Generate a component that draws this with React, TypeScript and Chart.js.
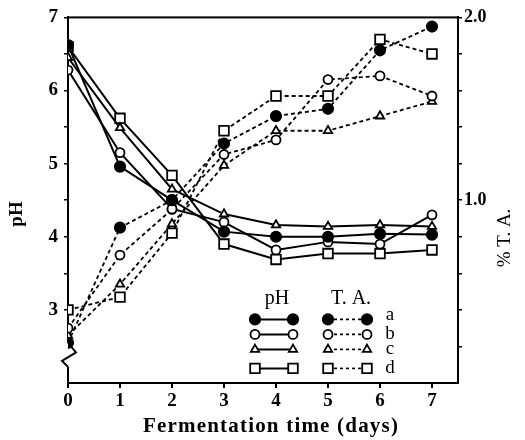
import React, { useEffect, useRef } from "react";
import { Chart, registerables } from "chart.js";

Chart.register(...registerables);

// ---- data ----
const days = [0, 1, 2, 3, 4, 5, 6, 7];
const pH_a = [6.62, 4.96, 4.5, 4.07, 4.0, 4.0, 4.04, 4.03];
const pH_b = [6.28, 5.15, 4.38, 4.2, 3.82, 3.93, 3.9, 4.3];
const pH_c = [6.45, 5.49, 4.65, 4.31, 4.16, 4.14, 4.16, 4.14];
const pH_d = [6.6, 5.62, 4.84, 3.9, 3.69, 3.77, 3.77, 3.82];
const TA_a = [0.22, 0.85, 1.0, 1.31, 1.46, 1.5, 1.82, 1.95];
const TA_b = [0.3, 0.7, 0.95, 1.25, 1.33, 1.66, 1.68, 1.57];
const TA_c = [0.26, 0.54, 0.87, 1.19, 1.38, 1.38, 1.46, 1.54];
const TA_d = [0.4, 0.47, 0.82, 1.38, 1.57, 1.57, 1.88, 1.8];
const xTicks = [0, 1, 2, 3, 4, 5, 6, 7];
const pHTicks = [3, 3.5, 4, 4.5, 5, 5.5, 6, 6.5, 7];
const pHLabels = [3, 4, 5, 6, 7];
const TATicks = [0.2, 0.4, 0.6, 0.8, 1.0, 1.2, 1.4, 1.6, 1.8, 2.0];
const TALabels = [1.0, 2.0];
const seriesLetters = ["a", "b", "c", "d"];

const SERIF = "'Liberation Serif', 'DejaVu Serif', serif";

type Marker = { style: "circle" | "rect" | "triangle"; filled: boolean; r: number };
const markers: Marker[] = [
  { style: "circle", filled: true, r: 5.2 },
  { style: "circle", filled: false, r: 4.5 },
  { style: "triangle", filled: false, r: 4.8 },
  { style: "rect", filled: false, r: 6.8 },
];

function drawMarker(ctx: CanvasRenderingContext2D, m: Marker, x: number, y: number) {
  ctx.save();
  ctx.beginPath();
  if (m.style === "circle") {
    ctx.arc(x, y, m.r, 0, Math.PI * 2);
  } else if (m.style === "rect") {
    const s = Math.SQRT1_2 * m.r;
    ctx.rect(x - s, y - s, 2 * s, 2 * s);
  } else {
    const r = m.r;
    ctx.moveTo(x, y - r);
    ctx.lineTo(x + r * Math.sin(Math.PI * 2 / 3), y - r * Math.cos(Math.PI * 2 / 3));
    ctx.lineTo(x - r * Math.sin(Math.PI * 2 / 3), y - r * Math.cos(Math.PI * 2 / 3));
    ctx.closePath();
  }
  ctx.fillStyle = m.filled ? "#000" : "#fff";
  ctx.fill();
  ctx.lineWidth = 1.8;
  ctx.strokeStyle = "#000";
  ctx.setLineDash([]);
  ctx.stroke();
  ctx.restore();
}

const framePlugin = {
  id: "frame",
  beforeDatasetsDraw(chart: any) {
    const { ctx, chartArea } = chart;
    const ys = chart.scales.y;
    ctx.save();
    ctx.strokeStyle = "#000";
    ctx.lineWidth = 2;
    ctx.setLineDash([]);
    ctx.strokeRect(chartArea.left, chartArea.top, chartArea.right - chartArea.left, chartArea.bottom - chartArea.top);
    // axis break on the left axis
    const y1 = ys.getPixelForValue(2.55);
    const y2 = ys.getPixelForValue(2.22);
    const x = chartArea.left;
    ctx.fillStyle = "#fff";
    ctx.fillRect(x - 4, y1, 8, y2 - y1);
    ctx.beginPath();
    ctx.moveTo(x, y1);
    ctx.lineTo(x + 8, y1 + (y2 - y1) * 0.4);
    ctx.lineTo(x - 6, y1 + (y2 - y1) * 0.75);
    ctx.lineTo(x, y2);
    ctx.stroke();
    ctx.restore();
  },
  afterDraw(chart: any) {
    const { ctx, chartArea } = chart;
    ctx.save();
    ctx.fillStyle = "#000";
    ctx.textAlign = "center";
    ctx.textBaseline = "middle";
    // x title
    ctx.font = `bold 21px ${SERIF}`;
    try { (ctx as any).letterSpacing = "1.2px"; } catch (e) {}
    const cx = (chartArea.left + chartArea.right) / 2;
    ctx.fillText("Fermentation time (days)", cx + 8, 427);
    try { (ctx as any).letterSpacing = "0px"; } catch (e) {}
    // left title
    ctx.save();
    ctx.translate(17, 214);
    ctx.rotate(-Math.PI / 2);
    ctx.font = `bold 19px ${SERIF}`;
    ctx.fillText("pH", 0, 0);
    ctx.restore();
    // right title
    ctx.save();
    ctx.translate(505, 238);
    ctx.rotate(-Math.PI / 2);
    ctx.font = `19px ${SERIF}`;
    ctx.fillText("% T. A.", 0, 0);
    ctx.restore();

    // legend
    const L = chartArea.left;
    const T = chartArea.top;
    ctx.font = `20px ${SERIF}`;
    ctx.fillText("pH", L + 209, T + 281);
    ctx.fillText("T. A.", L + 283, T + 281);
    const rowY = [302, 317, 332, 351];
    const pHx0 = L + 187, pHx1 = L + 225;
    const tax0 = L + 260, tax1 = L + 299;
    ctx.font = `19px ${SERIF}`;
    for (let i = 0; i < 4; i++) {
      const y = T + rowY[i];
      ctx.strokeStyle = "#000";
      ctx.lineWidth = 2;
      ctx.setLineDash([]);
      ctx.beginPath();
      ctx.moveTo(pHx0, y);
      ctx.lineTo(pHx1, y);
      ctx.stroke();
      drawMarker(ctx, markers[i], pHx0, y);
      drawMarker(ctx, markers[i], pHx1, y);
      ctx.lineWidth = 1.6;
      ctx.setLineDash([3, 3]);
      ctx.beginPath();
      ctx.moveTo(tax0, y);
      ctx.lineTo(tax1, y);
      ctx.stroke();
      ctx.setLineDash([]);
      drawMarker(ctx, markers[i], tax0, y);
      drawMarker(ctx, markers[i], tax1, y);
      ctx.fillStyle = "#000";
      ctx.fillText(seriesLetters[i], L + 322, y - (i === 0 ? 4 : 0));
    }
    ctx.restore();
  },
};

function mk(label: string, vals: number[], idx: number, axis: string, dashed: boolean) {
  const m = markers[idx];
  return {
    label,
    data: days.map((d, i) => ({ x: d, y: vals[i] })),
    yAxisID: axis,
    borderColor: "#000",
    borderWidth: dashed ? 1.8 : 2,
    borderDash: dashed ? [4, 3] : [],
    pointStyle: m.style,
    pointRadius: m.r,
    pointBorderWidth: 1.8,
    pointBorderColor: "#000",
    pointBackgroundColor: m.filled ? "#000" : "#fff",
    showLine: true,
    fill: false,
    tension: 0,
  };
}

export default function App() {
  const ref = useRef<HTMLCanvasElement>(null);
  useEffect(() => {
    if (!ref.current) return;
    const tickFont = { family: SERIF, size: 19, weight: "bold" as const };
    const chart = new Chart(ref.current, {
      type: "line",
      data: {
        datasets: [
          mk("pH a", pH_a, 0, "y", false),
          mk("pH b", pH_b, 1, "y", false),
          mk("pH c", pH_c, 2, "y", false),
          mk("pH d", pH_d, 3, "y", false),
          mk("T.A. a", TA_a, 0, "y1", true),
          mk("T.A. b", TA_b, 1, "y1", true),
          mk("T.A. c", TA_c, 2, "y1", true),
          mk("T.A. d", TA_d, 3, "y1", true),
        ],
      },
      options: {
        responsive: false,
        animation: false,
        layout: { padding: { top: 11, left: 0, right: 0, bottom: 0 } },
        plugins: { legend: { display: false }, tooltip: { enabled: false }, title: { display: false } },
        scales: {
          x: {
            type: "linear",
            min: 0,
            max: 7.5,
            position: "bottom",
            afterBuildTicks: (s: any) => { s.ticks = xTicks.map((v) => ({ value: v })); },
            afterFit: (s: any) => { s.height = 57; },
            grid: { drawOnChartArea: false, color: "#000", tickLength: 5, lineWidth: 2 },
            border: { color: "#000", width: 2 },
            ticks: { color: "#000", font: tickFont, padding: 2, callback: (v: any) => String(v) },
          },
          y: {
            type: "linear",
            min: 2,
            max: 7,
            position: "left",
            afterBuildTicks: (s: any) => { s.ticks = pHTicks.map((v) => ({ value: v })); },
            afterFit: (s: any) => { s.width = 68; },
            grid: { drawOnChartArea: false, color: "#000", tickLength: 4, lineWidth: 1.5 },
            border: { color: "#000", width: 2 },
            ticks: {
              color: "#000",
              font: tickFont,
              padding: 6,
              callback: (v: any) => (pHLabels.includes(Number(v)) ? String(v) : ""),
            },
          },
          y1: {
            type: "linear",
            min: 0,
            max: 2.0,
            position: "right",
            afterBuildTicks: (s: any) => { s.ticks = TATicks.map((v) => ({ value: v })); },
            afterFit: (s: any) => { s.width = 67; },
            grid: { drawOnChartArea: false, color: "#000", tickLength: 4, lineWidth: 1.5 },
            border: { color: "#000", width: 2 },
            ticks: {
              color: "#000",
              font: { family: SERIF, size: 18, weight: "bold" as const },
              padding: 2,
              callback: (v: any) => {
                const n = Math.round(Number(v) * 10) / 10;
                return TALabels.includes(n) ? n.toFixed(1) : "";
              },
            },
          },
        },
      },
      plugins: [framePlugin],
    });
    return () => chart.destroy();
  }, []);
  return (
    <div style={{ position: "absolute", left: 0, top: 0, width: 525, height: 440, background: "#fff" }}>
      <canvas ref={ref} width={525} height={440} style={{ display: "block" }} />
    </div>
  );
}
